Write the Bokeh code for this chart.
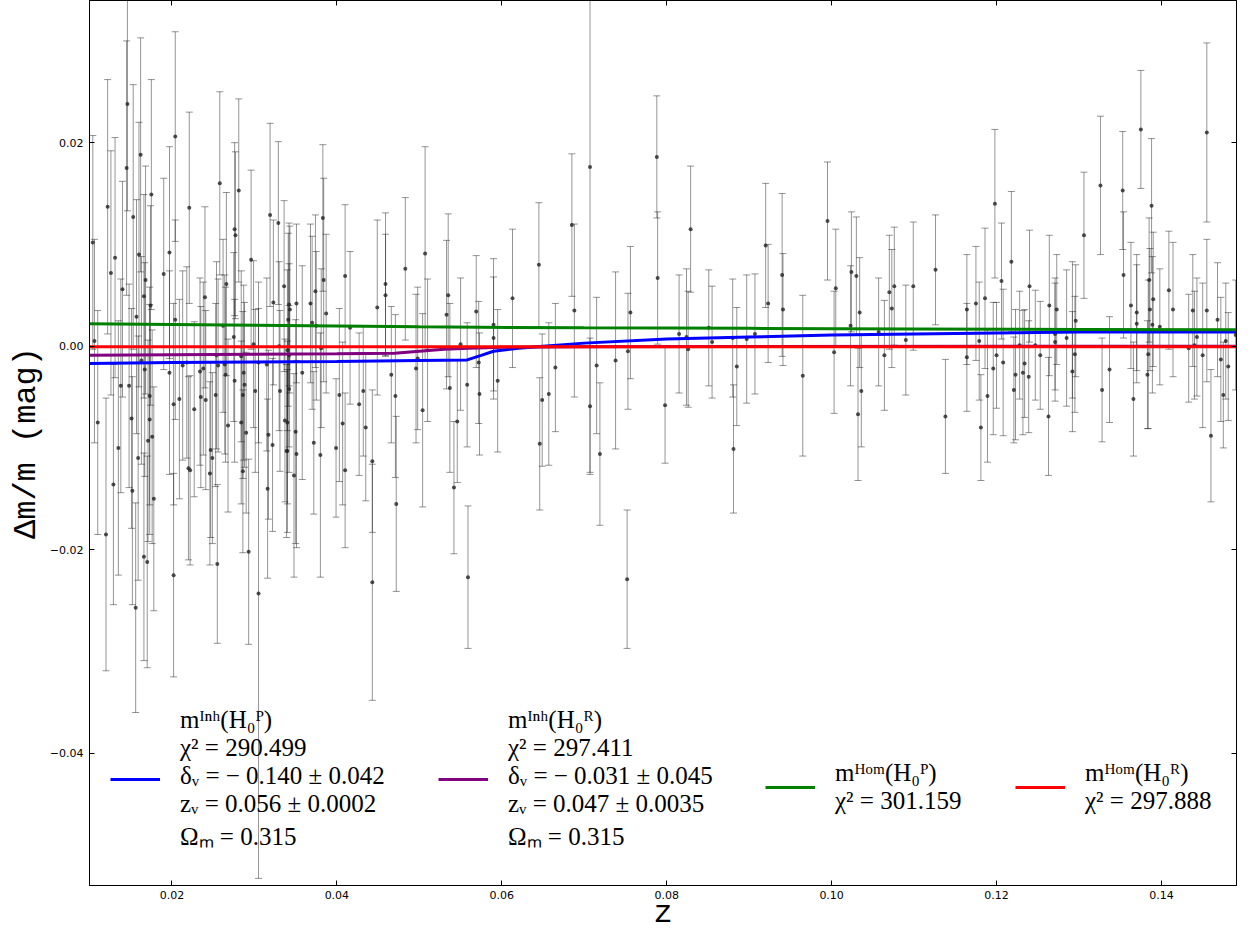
from bokeh.plotting import figure
from bokeh.models import (Range1d, LinearAxis, FixedTicker, Legend, LegendItem,
                          NumeralTickFormatter, CustomJSTickFormatter)
from bokeh.embed import file_html
from bokeh.resources import INLINE

# ---------------- observed SNe (z, residual, 1-sigma error) ----------------
z_obs = [
    0.0104, 0.0106, 0.0110, 0.0120, 0.0122, 0.0126, 0.0129, 0.0131, 0.0135, 0.0138,
    0.0140, 0.0145, 0.0146, 0.0148, 0.0151, 0.0152, 0.0153, 0.0156, 0.0157, 0.0159,
    0.0160, 0.0162, 0.0163, 0.0166, 0.0167, 0.0166, 0.0168, 0.0170, 0.0171, 0.0173,
    0.0173, 0.0175, 0.0174, 0.0176, 0.0178, 0.0190, 0.0197, 0.0197, 0.0202, 0.0202,
    0.0204, 0.0204, 0.0209, 0.0213, 0.0218, 0.0220, 0.0222, 0.0221, 0.0227, 0.0234,
    0.0235, 0.0240, 0.0238, 0.0241, 0.0246, 0.0247, 0.0249, 0.0253, 0.0254, 0.0256,
    0.0255, 0.0258, 0.0262, 0.0264, 0.0265, 0.0266, 0.0268, 0.0276, 0.0277, 0.0276,
    0.0275, 0.0281, 0.0284, 0.0284, 0.0286, 0.0287, 0.0288, 0.0290, 0.0286, 0.0293,
    0.0296, 0.0299, 0.0301, 0.0305, 0.0305, 0.0315, 0.0316, 0.0317, 0.0319, 0.0322,
    0.0323, 0.0329, 0.0330, 0.0331, 0.0336, 0.0337, 0.0340, 0.0340,
    0.0342, 0.0343, 0.0341, 0.0342, 0.0342, 0.0340, 0.0339, 0.0348, 0.0351, 0.0350,
    0.0351, 0.0358, 0.0368, 0.0370, 0.0372, 0.0374, 0.0375, 0.0380, 0.0381, 0.0383,
    0.0384, 0.0387, 0.0399, 0.0403, 0.0407, 0.0410, 0.0410, 0.0416, 0.0427, 0.0432,
    0.0435, 0.0443, 0.0443, 0.0449, 0.0459, 0.0459, 0.0466, 0.0471, 0.0472, 0.0483,
    0.0496, 0.0498, 0.0504, 0.0507, 0.0510, 0.0533, 0.0535, 0.0537, 0.0542, 0.0546,
    0.0550, 0.0558, 0.0559, 0.0569, 0.0572, 0.0573, 0.0590, 0.0590, 0.0595, 0.0613,
    0.0645, 0.0646, 0.0649, 0.0657, 0.0665, 0.0685, 0.0688,
    0.0707, 0.0707, 0.0715, 0.0719, 0.0738, 0.0752, 0.0753, 0.0756, 0.0788, 0.0789,
    0.0798, 0.0815, 0.0824, 0.0826, 0.0829, 0.0851, 0.0855, 0.0880, 0.0881, 0.0885,
    0.0897, 0.0907, 0.0920, 0.0923, 0.0940, 0.0941, 0.0965, 0.0995, 0.1003, 0.1005,
    0.1023, 0.1024, 0.1030, 0.1032, 0.1034, 0.1036, 0.1057, 0.1064, 0.1070, 0.1073,
    0.1076, 0.1090,
    0.1099, 0.1126, 0.1138, 0.1164, 0.1164, 0.1175, 0.1179, 0.1181, 0.1186, 0.1189,
    0.1196, 0.1198, 0.1200, 0.1206, 0.1208, 0.1218, 0.1221, 0.1223, 0.1228, 0.1232,
    0.1234, 0.1239, 0.1240, 0.1247, 0.1253, 0.1263, 0.1264, 0.1271, 0.1271, 0.1273,
    0.1285, 0.1292, 0.1292, 0.1295, 0.1296, 0.1306, 0.1326, 0.1328, 0.1337, 0.1353,
    0.1354, 0.1363, 0.1366, 0.1370, 0.1370, 0.1375, 0.1383, 0.1384, 0.1385, 0.1386,
    0.1388, 0.1389, 0.1390, 0.1398, 0.1409, 0.1414, 0.1433, 0.1438, 0.1440, 0.1443,
    0.1450, 0.1455, 0.1455, 0.1460, 0.1468, 0.1472, 0.1475, 0.1478, 0.1481, 0.1490,
    0.1497,
]
dm_obs = [
    0.0102, 0.0005, -0.0075, -0.0185, 0.0137, 0.0072, -0.0136, 0.0087, -0.0100, -0.0039,
    0.0056, 0.0175, 0.0238, -0.0039, -0.0071, -0.0142, 0.0127, -0.0257, 0.0029, -0.0110,
    0.0090, 0.0188, -0.0014, 0.0049, -0.0023, -0.0207, 0.0065, -0.0212, -0.0093, -0.0072,
    -0.0049, 0.0149, 0.0040, -0.0089, -0.0150, 0.0071, -0.0026, 0.0092, -0.0057, -0.0225,
    0.0206, 0.0026, -0.0052, -0.0019, -0.0016, -0.0120, -0.0122, 0.0136, -0.0062, -0.0025,
    -0.0050, 0.0048, -0.0022, -0.0053, -0.0125, -0.0102, -0.0110, -0.0048, -0.0009, -0.0019,
    -0.0214, 0.0160, 0.0020, -0.0018, -0.0028, 0.0061, -0.0078, 0.0115, 0.0109, -0.0034,
    0.0009, 0.0153, -0.0010, -0.0075, -0.0048, -0.0026, -0.0038, -0.0085, -0.0123, -0.0202,
    0.0085, 0.0002, -0.0044, -0.0016, -0.0243, -0.0018, -0.0140, -0.0087, 0.0129, -0.0097,
    0.0043, 0.0121, 0.0000, -0.0044, 0.0059, -0.0073, -0.0004, -0.0103,
    0.0041, 0.0036, 0.0026, -0.0009, -0.0042, -0.0075, -0.0103, -0.0127, -0.0106, -0.0084,
    0.0042, -0.0026, 0.0042, 0.0023, -0.0095, 0.0054, 0.0020, -0.0107, -0.0002, 0.0126,
    0.0065, 0.0032, -0.0100, -0.0048, -0.0076, 0.0069, -0.0122, 0.0018, -0.0057, -0.0044,
    -0.0080, -0.0113, -0.0232, 0.0038, 0.0061, 0.0050, -0.0028, -0.0049, -0.0155, 0.0076,
    -0.0022, -0.0012, -0.0063, 0.0091, -0.0004, 0.0031, 0.0050, -0.0041, -0.0139, -0.0074,
    0.0002, -0.0038, -0.0227, 0.0034, -0.0016, -0.0047, 0.0021, 0.0008, -0.0034, 0.0047,
    0.0080, -0.0096, -0.0053, -0.0047, -0.0021, 0.0119, 0.0035,
    0.0176, -0.0059, -0.0019, -0.0106, -0.0014, -0.0229, -0.0005, 0.0033, 0.0186, 0.0067,
    -0.0058, 0.0012, 0.0009, -0.0003, 0.0115, 0.0018, 0.0004, 0.0008, -0.0101, -0.0020,
    0.0007, 0.0012, 0.0099, 0.0042, 0.0070, 0.0036, -0.0029, 0.0123, -0.0006, 0.0057,
    0.0020, 0.0073, 0.0069, -0.0067, 0.0033, -0.0044, 0.0014, -0.0009, 0.0053, 0.0037,
    0.0059, 0.0006,
    0.0059, 0.0075, -0.0069, 0.0036, -0.0011, 0.0042, 0.0005, -0.0080, 0.0047, -0.0049,
    -0.0022, 0.0140, -0.0009, 0.0064, -0.0016, 0.0083, -0.0043, -0.0028, 0.0001, -0.0026,
    -0.0017, -0.0030, 0.0059, 0.0001, -0.0009, -0.0069, 0.0040, 0.0012, 0.0004, 0.0036,
    0.0008, 0.0016, -0.0025, -0.0008, 0.0025, 0.0109, 0.0158, -0.0043, -0.0023, 0.0153,
    0.0070, 0.0040, -0.0052, 0.0033, 0.0022, 0.0213, -0.0028, -0.0008, 0.0065, 0.0036,
    0.0138, 0.0021, 0.0046, 0.0019, 0.0055, 0.0036, -0.0002, 0.0035, 0.0001, 0.0009,
    -0.0009, 0.0210, 0.0035, -0.0088, 0.0026, -0.0013, -0.0048, 0.0005, -0.0020, 0.0011,
    0.0123,
]
err_obs = [
    0.0105, 0.0100, 0.0110, 0.0134, 0.0125, 0.0120, 0.0118, 0.0118, 0.0125, 0.0105,
    0.0106, 0.0125, 0.0105, 0.0100, 0.0108, 0.0112, 0.0130, 0.0103, 0.0115, 0.0120,
    0.0130, 0.0115, 0.0102, 0.0100, 0.0105, 0.0102, 0.0112, 0.0104, 0.0099, 0.0113,
    0.0107, 0.0113, 0.0098, 0.0105, 0.0110, 0.0094, 0.0100, 0.0104, 0.0099, 0.0100,
    0.0103, 0.0098, 0.0098, 0.0093, 0.0094, 0.0090, 0.0093, 0.0094, 0.0086, 0.0092,
    0.0089, 0.0089, 0.0085, 0.0088, 0.0090, 0.0086, 0.0084, 0.0090, 0.0092, 0.0085,
    0.0078, 0.0090, 0.0085, 0.0088, 0.0086, 0.0090, 0.0085, 0.0085, 0.0082, 0.0080,
    0.0083, 0.0090, 0.0084, 0.0080, 0.0082, 0.0086, 0.0081, 0.0079, 0.0080, 0.0091,
    0.0088, 0.0082, 0.0080, 0.0079, 0.0280, 0.0085, 0.0088, 0.0083, 0.0090, 0.0085,
    0.0081, 0.0080, 0.0083, 0.0079, 0.0084, 0.0080, 0.0079, 0.0080,
    0.0080, 0.0082, 0.0085, 0.0090, 0.0082, 0.0080, 0.0085, 0.0100, 0.0092, 0.0110,
    0.0078, 0.0105, 0.0078, 0.0085, 0.0070, 0.0075, 0.0073, 0.0120, 0.0078, 0.0072,
    0.0100, 0.0078, 0.0068, 0.0085, 0.0080, 0.0070, 0.0076, 0.0075, 0.0070, 0.0064,
    0.0072, 0.0070, 0.0116, 0.0086, 0.0070, 0.0060, 0.0067, 0.0080, 0.0086, 0.0070,
    0.0073, 0.0070, 0.0095, 0.0105, 0.0070, 0.0073, 0.0080, 0.0083, 0.0065, 0.0060,
    0.0065, 0.0061, 0.0070, 0.0055, 0.0060, 0.0060, 0.0065, 0.0060, 0.0070, 0.0068,
    0.0061, 0.0065, 0.0065, 0.0070, 0.0063, 0.0070, 0.0085,
    0.0300, 0.0067, 0.0067, 0.0070, 0.0087, 0.0068, 0.0057, 0.0065, 0.0060, 0.0065,
    0.0057, 0.0058, 0.0067, 0.0057, 0.0062, 0.0057, 0.0055, 0.0058, 0.0063, 0.0058,
    0.0063, 0.0059, 0.0061, 0.0058, 0.0080, 0.0055, 0.0079, 0.0058, 0.0060, 0.0058,
    0.0059, 0.0059, 0.0058, 0.0065, 0.0054, 0.0055, 0.0053, 0.0054, 0.0056, 0.0058,
    0.0058, 0.0054,
    0.0063, 0.0054, 0.0056, 0.0054, 0.0053, 0.0056, 0.0058, 0.0052, 0.0069, 0.0065,
    0.0065, 0.0073, 0.0052, 0.0057, 0.0072, 0.0069, 0.0052, 0.0064, 0.0053, 0.0061,
    0.0053, 0.0055, 0.0055, 0.0054, 0.0053, 0.0058, 0.0069, 0.0055, 0.0058, 0.0054,
    0.0067, 0.0067, 0.0059, 0.0057, 0.0055, 0.0062, 0.0068, 0.0051, 0.0052, 0.0058,
    0.0062, 0.0062, 0.0056, 0.0057, 0.0058, 0.0058, 0.0053, 0.0073, 0.0061, 0.0060,
    0.0066, 0.0067, 0.0066, 0.0057, 0.0058, 0.0066, 0.0053, 0.0055, 0.0053, 0.0058,
    0.0071, 0.0088, 0.0070, 0.0065, 0.0056, 0.0061, 0.0052, 0.0057, 0.0053, 0.0054,
    0.0080,
]

# ---------------- model curves ----------------
inh_p_z = [0.010, 0.020, 0.030, 0.040, 0.050, 0.0558, 0.0575, 0.059, 0.062, 0.065,
           0.070, 0.080, 0.090, 0.100, 0.110, 0.120, 0.130, 0.150]
inh_p_dm = [-0.0017, -0.0016, -0.00155, -0.0015, -0.0014, -0.00135, -0.0009, -0.0005,
            -0.0002, 0.0000, 0.0003, 0.0007, 0.0009, 0.0011, 0.0012, 0.0013, 0.0014, 0.0014]

inh_r_z = [0.010, 0.020, 0.030, 0.040, 0.047, 0.050, 0.053, 0.056, 0.060, 0.070, 0.150]
inh_r_dm = [-0.0009, -0.00085, -0.0008, -0.00075, -0.0007, -0.0005, -0.0003, -0.0002,
            -0.0001, -0.00005, 0.0]

hom_p_z = [0.010, 0.030, 0.050, 0.070, 0.090, 0.110, 0.130, 0.150]
hom_p_dm = [0.0022, 0.00205, 0.0019, 0.0018, 0.00175, 0.0017, 0.00165, 0.0016]

hom_r_z = [0.010, 0.150]
hom_r_dm = [-0.00005, -0.00005]

# ---------------- legend texts ----------------
label_inh_p = "mᴵⁿʰ(H₀ᴾ)\nχ² = 290.499\nδᵥ = − 0.140 ± 0.042\nzᵥ = 0.056 ± 0.0002\nΩₘ = 0.315"
label_inh_r = "mᴵⁿʰ(H₀ᴿ)\nχ² = 297.411\nδᵥ = − 0.031 ± 0.045\nzᵥ = 0.047 ± 0.0035\nΩₘ = 0.315"
label_hom_p = "mᴴᵒᵐ(H₀ᴾ)\nχ² = 301.159"
label_hom_r = "mᴴᵒᵐ(H₀ᴿ)\nχ² = 297.888"

x_ticks = [0.02, 0.04, 0.06, 0.08, 0.10, 0.12, 0.14]
y_ticks = [-0.04, -0.02, 0.0, 0.02]

p = figure(width=1237, height=934, output_backend="svg", toolbar_location=None,
           x_range=Range1d(0.0100, 0.1491), y_range=Range1d(-0.0530, 0.03397),
           min_border_left=89, min_border_right=1, min_border_top=0, min_border_bottom=48)
p.xgrid.visible = False
p.ygrid.visible = False
p.outline_line_color = "black"
p.outline_line_width = 1
p.background_fill_color = "white"
p.border_fill_color = "white"

ytick_fmt = CustomJSTickFormatter(code="return tick.toFixed(2).replace('-', '\u2212');")

def style_axis(ax, ticks, show_labels):
    ax.ticker = FixedTicker(ticks=ticks)
    ax.major_tick_in = 5
    ax.major_tick_out = 0
    ax.minor_tick_in = 0
    ax.minor_tick_out = 0
    ax.axis_line_color = "black"
    ax.major_tick_line_color = "black"
    ax.major_label_text_font = "DejaVu Sans"
    if show_labels:
        ax.major_label_text_font_size = "11px"
        ax.major_label_text_color = "black"
        ax.major_label_standoff = 6
    else:
        ax.major_label_text_font_size = "1px"
        ax.major_label_text_color = None
        ax.major_label_standoff = 0

xa = p.xaxis[0]
style_axis(xa, x_ticks, True)
xa.formatter = NumeralTickFormatter(format="0.00")
xa.major_label_standoff = 5
xa.axis_label = "z"
xa.axis_label_text_font = "Liberation Mono"
xa.axis_label_text_font_size = "32px"
xa.axis_label_text_font_style = "normal"
xa.axis_label_text_color = "black"
xa.axis_label_standoff = -7

ya = p.yaxis[0]
style_axis(ya, y_ticks, True)
ya.formatter = ytick_fmt
ya.axis_label = "Δm/m (mag)"
ya.axis_label_text_font = "Liberation Mono"
ya.axis_label_text_font_size = "32px"
ya.axis_label_text_font_style = "normal"
ya.axis_label_text_color = "black"
ya.axis_label_standoff = 2

top = LinearAxis()
style_axis(top, x_ticks, False)
p.add_layout(top, "above")
right = LinearAxis()
style_axis(right, y_ticks, False)
p.add_layout(right, "right")

# ---------------- data with error bars ----------------
lo = [d - e for d, e in zip(dm_obs, err_obs)]
hi = [d + e for d, e in zip(dm_obs, err_obs)]
p.segment(x0=z_obs, y0=lo, x1=z_obs, y1=hi, line_color="black", line_alpha=0.42, line_width=1)
p.scatter(x=z_obs, y=lo, marker="dash", size=7, line_color="black", line_alpha=0.42, line_width=1)
p.scatter(x=z_obs, y=hi, marker="dash", size=7, line_color="black", line_alpha=0.42, line_width=1)
p.scatter(x=z_obs, y=dm_obs, marker="circle", size=4, fill_color="#222222", fill_alpha=0.8,
          line_color=None)

# ---------------- models ----------------
r_ip = p.line(inh_p_z, inh_p_dm, line_color="#0000ff", line_width=3)
r_ir = p.line(inh_r_z, inh_r_dm, line_color="#800080", line_width=3)
r_hp = p.line(hom_p_z, hom_p_dm, line_color="#008000", line_width=3)
r_hr = p.line(hom_r_z, hom_r_dm, line_color="#ff0000", line_width=3)

def add_legend(renderer, text, loc, block_h):
    leg = Legend(items=[LegendItem(label=text, renderers=[renderer])], location=loc,
                 orientation="vertical", padding=0, margin=0, spacing=0,
                 border_line_alpha=0, background_fill_alpha=0,
                 glyph_width=50, glyph_height=block_h, label_height=block_h,
                 label_standoff=20, label_text_font="Liberation Serif",
                 label_text_font_size="25px", label_text_line_height=1.25,
                 label_text_color="black")
    p.add_layout(leg, "center")

add_legend(r_ip, label_inh_p, (21, 28), 156)
add_legend(r_ir, label_inh_r, (349, 28), 156)
add_legend(r_hp, label_hom_p, (676, 67), 62)
add_legend(r_hr, label_hom_r, (926, 67), 62)

open("out.html", "w").write(file_html(p, INLINE))
